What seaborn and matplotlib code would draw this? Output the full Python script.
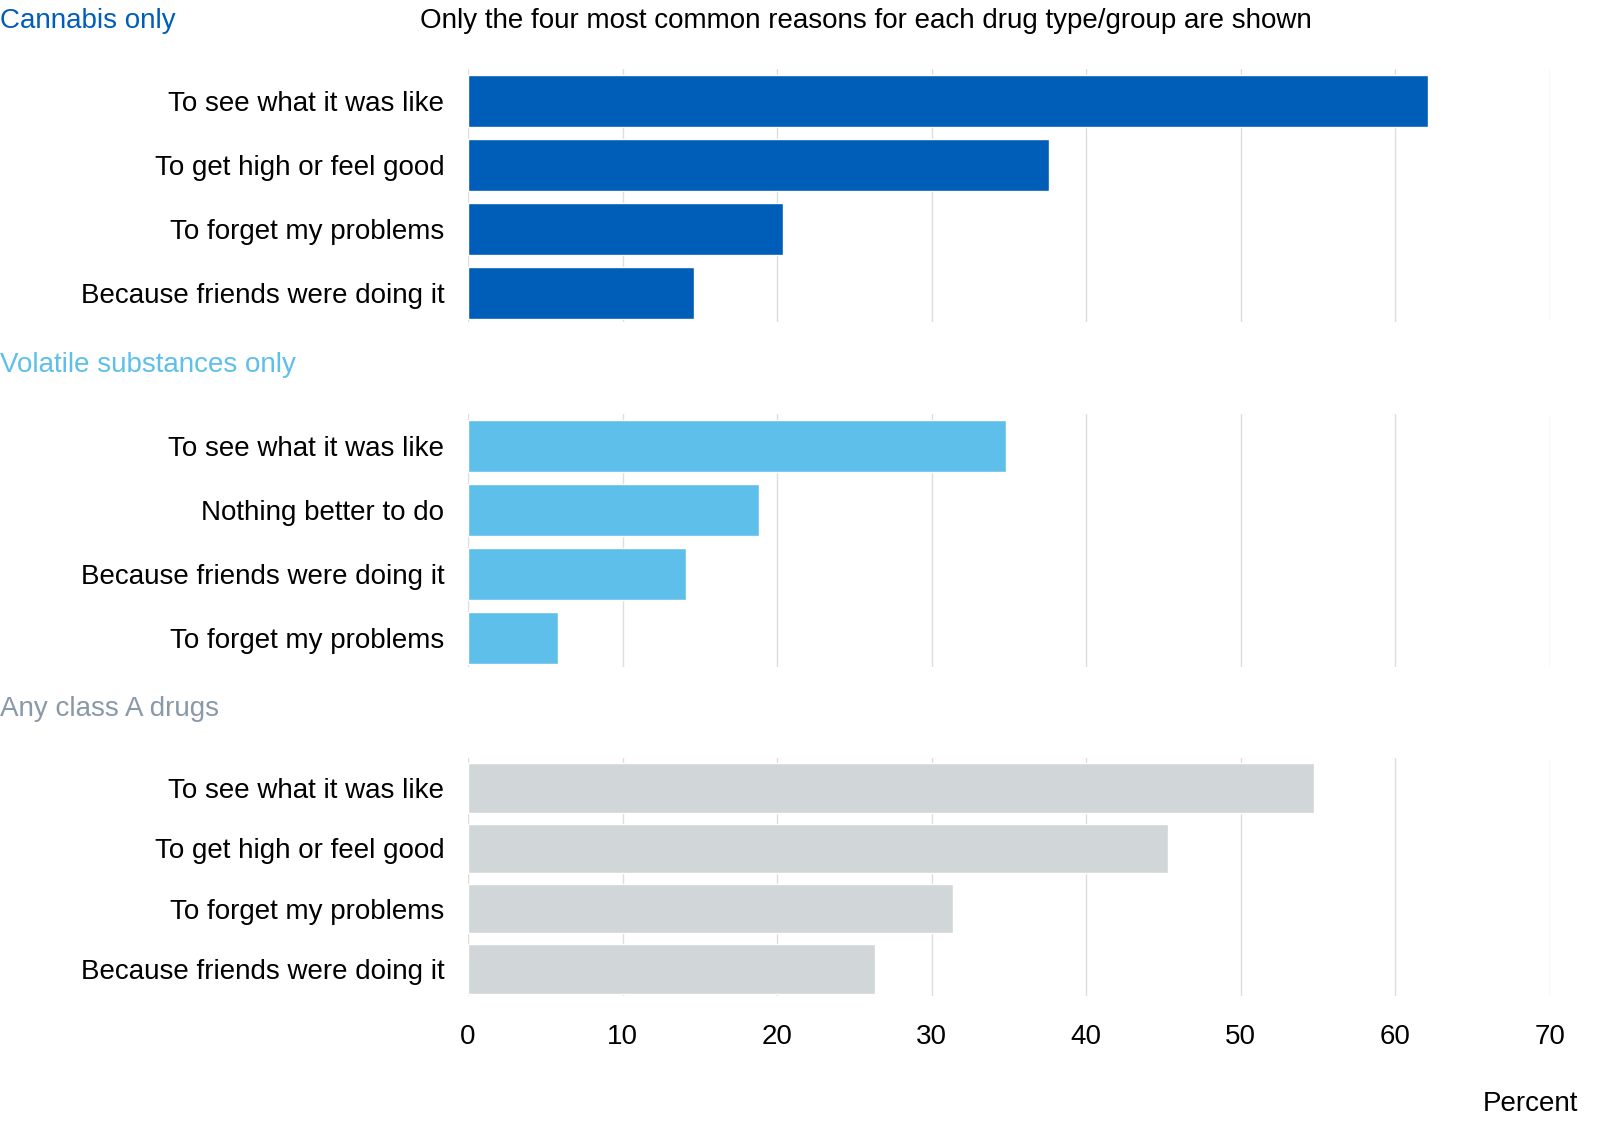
import matplotlib.pyplot as plt
import seaborn as sns

# Datos por grupo (porcentaje)
cannabis_reasons = ["To see what it was like", "To get high or feel good",
                    "To forget my problems", "Because friends were doing it"]
cannabis_values = [62.1, 37.6, 20.4, 14.6]

volatile_reasons = ["To see what it was like", "Nothing better to do",
                    "Because friends were doing it", "To forget my problems"]
volatile_values = [34.8, 18.8, 14.1, 5.8]

classa_reasons = ["To see what it was like", "To get high or feel good",
                  "To forget my problems", "Because friends were doing it"]
classa_values = [54.7, 45.3, 31.4, 26.3]

group_titles = ["Cannabis only", "Volatile substances only", "Any class A drugs"]
group_colors = ["#005EB8", "#5EC0EA", "#D1D7D8"]
title_colors = ["#005EB8", "#5EC0EA", "#8A99A8"]
x_ticks = [0, 10, 20, 30, 40, 50, 60, 70]

sns.set_style("white")
plt.rcParams['font.family'] = ['Liberation Sans', 'DejaVu Sans']
plt.rcParams['text.color'] = 'black'
plt.rcParams['xtick.color'] = 'black'
plt.rcParams['ytick.color'] = 'black'
FS = 20

fig = plt.figure(figsize=(16.12, 11.28), dpi=100)
W, H = 1612, 1128

# posiciones de los paneles (px desde arriba)
panels = [(69, 322), (414, 667), (758, 996)]
title_y = [20.5, 365, 709]
left, right = 468, 1550

data = [(cannabis_reasons, cannabis_values),
        (volatile_reasons, volatile_values),
        (classa_reasons, classa_values)]

for i, ((reasons, values), (top, bot)) in enumerate(zip(data, panels)):
    ax = fig.add_axes([left / W, 1 - bot / H, (right - left) / W, (bot - top) / H])
    sns.barplot(x=values, y=reasons, color=group_colors[i], width=0.82,
                saturation=1, ax=ax)
    ax.set_xlim(0, 70)
    ax.set_ylim(3.45, -0.5)
    ax.set_xticks(x_ticks)
    ax.grid(axis='x', color='#DDDDDD', linewidth=1)
    ax.set_axisbelow(True)
    for s in ax.spines.values():
        s.set_visible(False)
    ax.tick_params(axis='y', length=0, pad=17, labelsize=FS)
    ax.tick_params(axis='x', length=0, pad=20, labelsize=FS)
    if i < 2:
        ax.set_xticklabels([])
    ax.set_xlabel('')
    ax.set_ylabel('')
    fig.text(0, 1 - title_y[i] / H, group_titles[i], color=title_colors[i],
             fontsize=FS, ha='left', va='center')

fig.text(866 / W, 1 - 20.5 / H,
         "Only the four most common reasons for each drug type/group are shown",
         fontsize=FS, ha='center', va='center')
fig.text(1578 / W, 1 - 1104 / H, "Percent", fontsize=FS, ha='right', va='center')

fig.savefig("out.png", dpi=100)
